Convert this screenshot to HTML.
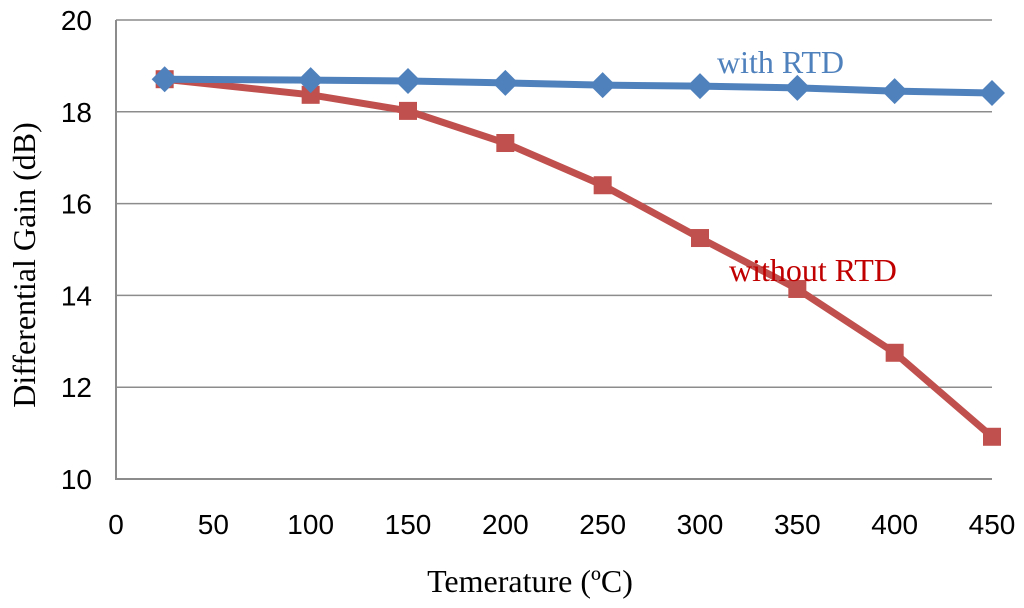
<!DOCTYPE html>
<html><head><meta charset="utf-8"><style>
html,body{margin:0;padding:0;background:#fff;width:1024px;height:608px;overflow:hidden}
svg{display:block}
.tick{font-family:"Liberation Sans",sans-serif;font-size:28px;fill:#000}
.title{font-family:"Liberation Serif",serif;font-size:32px;fill:#000}
</style></head><body>
<svg id="chart" width="1024" height="608" viewBox="0 0 1024 608"></svg>
<script>
const xCats=[25,100,150,200,250,300,350,400,450];
const withRTD=[18.71,18.69,18.67,18.63,18.58,18.56,18.52,18.45,18.41];
const withoutRTD=[18.71,18.37,18.02,17.32,16.4,15.25,14.14,12.75,10.92];
const yTicks=[10,12,14,16,18,20];
const xTicks=[0,50,100,150,200,250,300,350,400,450];

const L=116,R=992,T=20,B=479;
const xs=v=>L+(v-0)/(450-0)*(R-L);
const ys=v=>B-(v-10)/(20-10)*(B-T);
const svg=document.getElementById('chart');
const NS='http://www.w3.org/2000/svg';
function mk(tag,attrs,parent){const e=document.createElementNS(NS,tag);for(const k in attrs)e.setAttribute(k,attrs[k]);(parent||svg).appendChild(e);return e;}

yTicks.forEach(t=>{
  if(t>10){const g=mk('line',{x1:L,x2:R,y1:ys(t),y2:ys(t),stroke:'#8c8c8c','stroke-width':1.5});
  
  }
  const tx=mk('text',{x:L-24,y:ys(t)+10,'text-anchor':'end',class:'tick'});tx.textContent=t;
  
  
});
const ax=mk('path',{d:`M${L} ${T}V${B}H${R}`,fill:'none',stroke:'#8c8c8c','stroke-width':2});


xTicks.forEach(t=>{
  const tx=mk('text',{x:xs(t),y:534,'text-anchor':'middle',class:'tick'});tx.textContent=t;
  
  
});
const xt=mk('text',{x:530,y:592,'text-anchor':'middle',class:'title'});xt.textContent='Temerature (ºC)';


const yt=mk('text',{x:0,y:0,'text-anchor':'middle',class:'title',transform:'translate(35,265) rotate(-90)'});yt.textContent='Differential Gain (dB)';



function series(vals,color,name,marker){
  const g=mk('g',{});
  
  
  const l=mk('polyline',{points:vals.map((v,i)=>xs(xCats[i])+','+ys(v)).join(' '),fill:'none',stroke:color,'stroke-width':7,'stroke-linejoin':'round'},g);
  
  
  vals.forEach((v,i)=>{
    const x=xs(xCats[i]),y=ys(v);let m;
    if(marker==='diamond')m=mk('polygon',{points:`${x},${y-13} ${x+13},${y} ${x},${y+13} ${x-13},${y}`,fill:color},g);
    else m=mk('rect',{x:x-9,y:y-9,width:18,height:18,fill:color},g);
    
    
  });
}
series(withoutRTD,'#c0504d','without-rtd','square');
series(withRTD,'#4f81bd','with-rtd','diamond');

const l1=mk('text',{x:717,y:73,class:'title',style:'fill:#4f81bd'});l1.textContent='with RTD';


const l2=mk('text',{x:729,y:281,class:'title',style:'fill:#c00000'});l2.textContent='without RTD';


</script>
</body></html>
